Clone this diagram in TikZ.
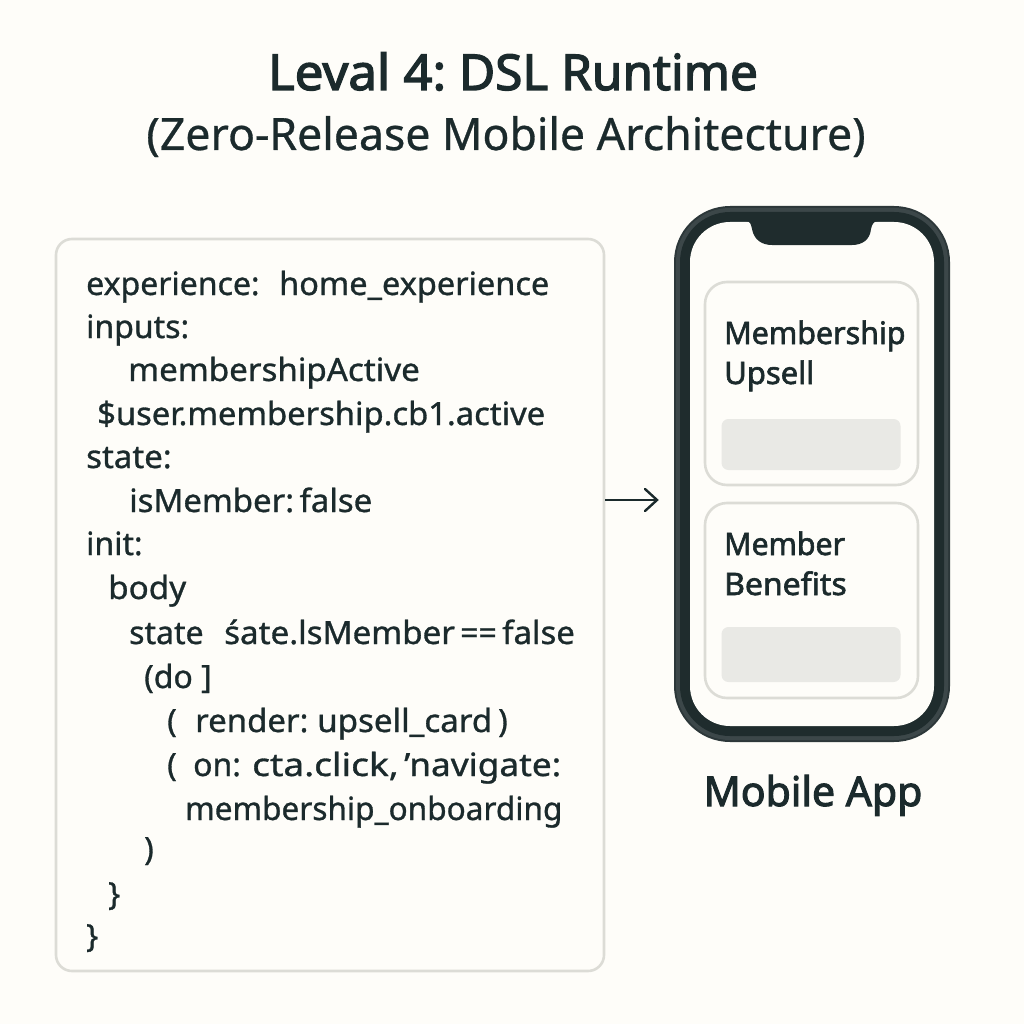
\documentclass[tikz,border=0pt]{standalone}
\usepackage{graphicx}
\usepackage{fontspec}
\setmainfont{Noto Sans}
\newfontfamily\codefont{Noto Sans}
\newfontfamily\subfont{Noto Sans}
\newcommand{\sx}[2]{\scalebox{#1}[1]{#2}}
\newcommand{\seg}[2]{\makebox[#1][l]{#2}}
\newcommand{\heavy}[2]{\special{pdf:code 2 Tr #1 w}#2\special{pdf:code 0 Tr 1 w}}
\definecolor{pagebg}{HTML}{FEFDF9}
\definecolor{ink}{HTML}{1B2A2C}
\definecolor{edgegray}{HTML}{DCDCD6}
\definecolor{barfill}{HTML}{E9E9E5}
\definecolor{rimdark}{HTML}{2C3739}
\definecolor{rimlight}{HTML}{3C4749}
\definecolor{rimcore}{HTML}{1F2C2D}
\newcommand{\code}[1]{\heavy{0.3}{#1}}
\tikzset{
  codeline/.style={anchor=base west,inner sep=0pt,text=ink,font=\codefont\fontsize{32}{32}\selectfont},
  panelbox/.style={draw=edgegray,line width=2.6pt,fill=pagebg,rounded corners=16pt,inner sep=0pt},
  cardbox/.style={draw=edgegray,line width=2.6pt,fill=pagebg,rounded corners=22pt,inner sep=0pt},
  barbox/.style={fill=barfill,rounded corners=7pt,inner sep=0pt,minimum width=179pt},
  rim/.style={rounded corners=#1,inner sep=0pt},
  cardtext/.style={anchor=base west,inner sep=0pt,text=ink,font=\fontsize{31}{31}\selectfont},
}
\begin{document}
\begin{tikzpicture}[x=1pt,y=-1pt]
\useasboundingbox (0,0) rectangle (1024,1024);
\fill[pagebg] (0,0) rectangle (1024,1024);
% title
\node[anchor=base,inner sep=0pt,text=ink,font=\fontsize{49.5}{49.5}\selectfont] (title) at (513,90) {\heavy{1.3}{\sx{1.03}{Leval 4:} DSL Runtime}};
\node[anchor=base,inner sep=0pt,text=ink,font=\subfont\fontsize{44.6}{44.6}\selectfont] (subtitle) at (506,150) {\heavy{0.3}{(Zero-Release Mobile Architecture)}};
% code panel
\node[panelbox,minimum width=548pt,minimum height=732pt] (panel) at (330,605) {};
\node[codeline] (c1) at (86,295) {\code{\seg{193pt}{experience:}\sx{1.015}{home\_experience}}};
\node[codeline] (c2) at (86,338) {\code{inputs:}};
\node[codeline] (c3) at (128,381) {\code{\sx{1.035}{membershipActive}}};
\node[codeline] (c4) at (97,425) {\code{\sx{1.023}{\$user.membership.cb1.active}}};
\node[codeline] (c5) at (86,468) {\code{\sx{1.03}{state:}}};
\node[codeline] (c6) at (129,512) {\code{\sx{1.03}{isMember:\,false}}};
\node[codeline] (c7) at (86,555) {\code{init:}};
\node[codeline] (c8) at (108,599) {\code{\sx{1.04}{body}}};
\node[codeline] (c9) at (129,644) {\code{\seg{95pt}{state}\seg{236pt}{\sx{1.035}{śate.lsMember}}\seg{42pt}{==}\sx{1.03}{false}}};
\node[codeline] (c10) at (144,688) {\code{(do ]}};
\node[codeline] (c11) at (167,732) {\code{\seg{28pt}{(}\seg{122pt}{\sx{1.03}{render:}}\seg{181pt}{\sx{1.035}{upsell\_card}})}};
\node[codeline] (c12) at (167,776) {\code{\seg{26pt}{(}\seg{59pt}{on:}\seg{152pt}{\sx{1.16}{cta.click,}}\sx{1.1}{’navigate:}}};
\node[codeline] (c13) at (185,820) {\code{\sx{0.987}{membership\_onboarding}}};
\node[codeline] (c14) at (144,860) {\code{)}};
\node[codeline] (c15) at (108,905) {\code{\}}};
\node[codeline] (c16) at (86,947) {\code{\}}};
% phone
\node[rim=56pt,fill=rimdark,minimum width=276pt,minimum height=536pt] (phone) at (812,474) {};
\node[rim=54pt,fill=rimlight,minimum width=272pt,minimum height=532pt] (rimA) at (phone.center) {};
\node[rim=50pt,fill=rimcore,minimum width=264pt,minimum height=524pt] (rimB) at (phone.center) {};
\node[rim=40pt,fill=pagebg,minimum width=244pt,minimum height=504pt] (screen) at (phone.center) {};
\fill[rimcore] (746,221) .. controls (750,221) and (751,224) .. (752,229) .. controls (754,240) and (762,245) .. (772,245) -- (852,245) .. controls (862,245) and (870,240) .. (871,229) .. controls (872,224) and (874,221) .. (878,221) -- cycle;
% cards
\node[cardbox,minimum width=213pt,minimum height=203pt] (card1) at (811.5,383.5) {};
\node[cardbox,minimum width=213pt,minimum height=195pt] (card2) at (811.5,600.5) {};
\node[barbox,minimum height=51pt] (bar1) at (811,444.5) {};
\node[barbox,minimum height=55pt] (bar2) at (811,654.5) {};
\node[cardtext] (t1) at (724,344) {\heavy{0.6}{\sx{0.98}{Membership}}};
\node[cardtext] (t2) at (724,384) {\heavy{0.6}{Upsell}};
\node[cardtext] (t3) at (724,555) {\heavy{0.6}{\sx{0.975}{Member}}};
\node[cardtext] (t4) at (724,595) {\heavy{0.6}{\sx{1.03}{Benefits}}};
\node[anchor=base,inner sep=0pt,text=ink,font=\fontsize{41}{41}\selectfont] (applabel) at (813,806) {\heavy{1.0}{Mobile App}};
% arrow
\coordinate (arrowfrom) at (panel.east |- 0,500);
\coordinate (arrowto) at (657,500);
\draw[ink,line width=2.4pt] (arrowfrom) -- (arrowto);
\draw[ink,line width=2.4pt,line cap=round] (645,489) -- (arrowto) -- (645,511);
\end{tikzpicture}
\end{document}
